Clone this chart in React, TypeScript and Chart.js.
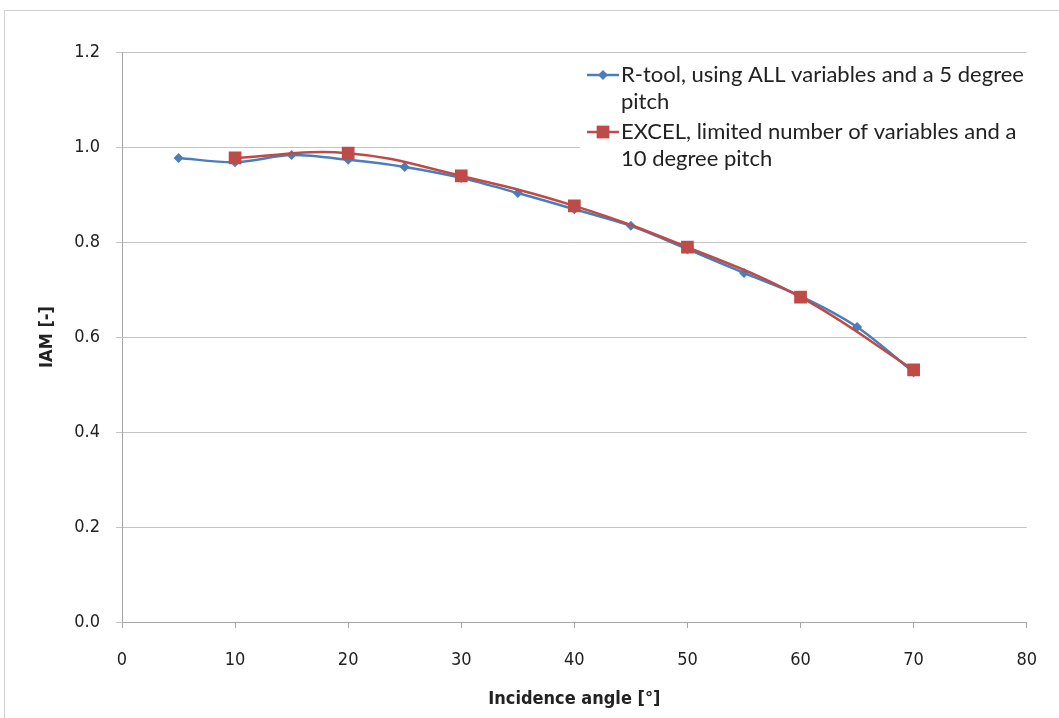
import { useEffect, useRef } from "react";
import { Chart, registerables } from "chart.js";

Chart.register(...registerables);

// ---- data ----
const rToolAngles = [5, 10, 15, 20, 25, 30, 35, 40, 45, 50, 55, 60, 65, 70];
const rToolIam = [0.977, 0.968, 0.983, 0.973, 0.958, 0.935, 0.903, 0.869, 0.834, 0.785, 0.735, 0.686, 0.621, 0.526];
const excelAngles = [10, 20, 30, 40, 50, 60, 70];
const excelIam = [0.977, 0.987, 0.939, 0.876, 0.789, 0.684, 0.531];

const rToolLabel = ["R-tool, using ALL variables and a 5 degree", "pitch"];
const excelLabel = ["EXCEL, limited number of variables and a", "10 degree pitch"];
const xTitle = "Incidence angle [°]";
const yTitle = "IAM [-]";

const BLUE = "#4a7ebb";
const RED = "#be4b48";
const AXIS_FONT = "'Liberation Sans Narrow', 'DejaVu Sans Condensed', 'Liberation Sans', sans-serif";
const LEGEND_FONT = "Lato, 'Open Sans', sans-serif";

function drawMarker(ctx: CanvasRenderingContext2D, style: string, r: number, x: number, y: number, color: string) {
  ctx.save();
  ctx.fillStyle = color;
  ctx.beginPath();
  if (style === "rect") {
    const s = r * Math.SQRT1_2;
    ctx.rect(x - s, y - s, 2 * s, 2 * s);
  } else {
    ctx.moveTo(x, y - r);
    ctx.lineTo(x + r, y);
    ctx.lineTo(x, y + r);
    ctx.lineTo(x - r, y);
    ctx.closePath();
  }
  ctx.fill();
  ctx.restore();
}

const legendPlugin = {
  id: "customLegend",
  beforeDatasetsDraw(chart: any) {
    const ctx = chart.ctx as CanvasRenderingContext2D;
    ctx.save();
    ctx.fillStyle = "#ffffff";
    ctx.fillRect(580, 56, 448, 124);
    const items = [
      { lines: rToolLabel, color: BLUE, style: "rectRot", radius: 5, y: 75 },
      { lines: excelLabel, color: RED, style: "rect", radius: 9, y: 132 },
    ];
    ctx.font = `22px ${LEGEND_FONT}`;
    ctx.textBaseline = "middle";
    ctx.textAlign = "left";
    for (const it of items) {
      ctx.strokeStyle = it.color;
      ctx.lineWidth = 2.5;
      ctx.beginPath();
      ctx.moveTo(587, it.y);
      ctx.lineTo(619, it.y);
      ctx.stroke();
      drawMarker(ctx, it.style, it.radius, 603, it.y, it.color);
      ctx.fillStyle = "#222222";
      it.lines.forEach((ln: string, i: number) => {
        ctx.fillText(ln, 621, it.y + i * 27);
      });
    }
    ctx.restore();
  },
};

export default function App() {
  const ref = useRef<HTMLCanvasElement | null>(null);

  useEffect(() => {
    document.body.style.margin = "0";
    const canvas = ref.current;
    if (!canvas) return;
    const chart = new Chart(canvas, {
      type: "line",
      data: {
        datasets: [
          {
            label: rToolLabel.join(" "),
            data: rToolAngles.map((a, i) => ({ x: a, y: rToolIam[i] })),
            borderColor: BLUE,
            backgroundColor: BLUE,
            borderWidth: 2.5,
            pointStyle: "rectRot",
            pointRadius: 5,
            pointBorderWidth: 0,
            tension: 0.3,
            order: 2,
          },
          {
            label: excelLabel.join(" "),
            data: excelAngles.map((a, i) => ({ x: a, y: excelIam[i] })),
            borderColor: RED,
            backgroundColor: RED,
            borderWidth: 2.5,
            pointStyle: "rect",
            pointRadius: 9,
            pointBorderWidth: 0,
            tension: 0.4,
            order: 1,
          },
        ],
      },
      options: {
        responsive: false,
        animation: false,
        events: [],
        layout: { padding: { left: 37, top: 52, right: 30, bottom: 8 } },
        plugins: {
          legend: { display: false },
          tooltip: { enabled: false },
        },
        scales: {
          x: {
            type: "linear",
            min: 0,
            max: 80,
            ticks: {
              stepSize: 10,
              color: "#222222",
              font: { family: AXIS_FONT, size: 18 },
              padding: 22,
            },
            grid: {
              display: true,
              drawOnChartArea: false,
              drawTicks: true,
              tickLength: 6,
              color: "#a6a6a6",
            },
            border: { color: "#a6a6a6", width: 1 },
            title: {
              display: true,
              text: xTitle,
              color: "#222222",
              font: { family: AXIS_FONT, size: 18, weight: "bold" },
              padding: { top: 0, bottom: 0 },
            },
            afterFit(scale: any) {
              scale.height = 718 - 622 - 8;
            },
          },
          y: {
            type: "linear",
            min: 0,
            max: 1.2,
            ticks: {
              stepSize: 0.2,
              color: "#222222",
              font: { family: AXIS_FONT, size: 18 },
              padding: 16,
              callback: (v: any) => Number(v).toFixed(1),
            },
            grid: {
              color: "#c4c4c4",
              lineWidth: 1,
              drawTicks: true,
              tickLength: 6,
            },
            border: { color: "#a6a6a6", width: 1 },
            title: {
              display: true,
              text: yTitle,
              color: "#222222",
              font: { family: AXIS_FONT, size: 18, weight: "bold" },
              padding: { top: 0, bottom: 0 },
            },
            afterFit(scale: any) {
              scale.width = 122 - 37;
            },
          },
        },
      } as any,
      plugins: [legendPlugin],
    });
    return () => chart.destroy();
  }, []);

  return (
    <div
      style={{
        position: "fixed",
        left: 0,
        top: 0,
        width: 1059,
        height: 718,
        background: "#ffffff",
        overflow: "hidden",
      }}
    >
      <div
        style={{
          position: "absolute",
          left: 4,
          top: 10,
          width: 1100,
          height: 800,
          border: "1px solid #d0d0d0",
          boxSizing: "border-box",
        }}
      />
      <canvas ref={ref} width={1059} height={718} style={{ position: "absolute", left: 0, top: 0 }} />
    </div>
  );
}
